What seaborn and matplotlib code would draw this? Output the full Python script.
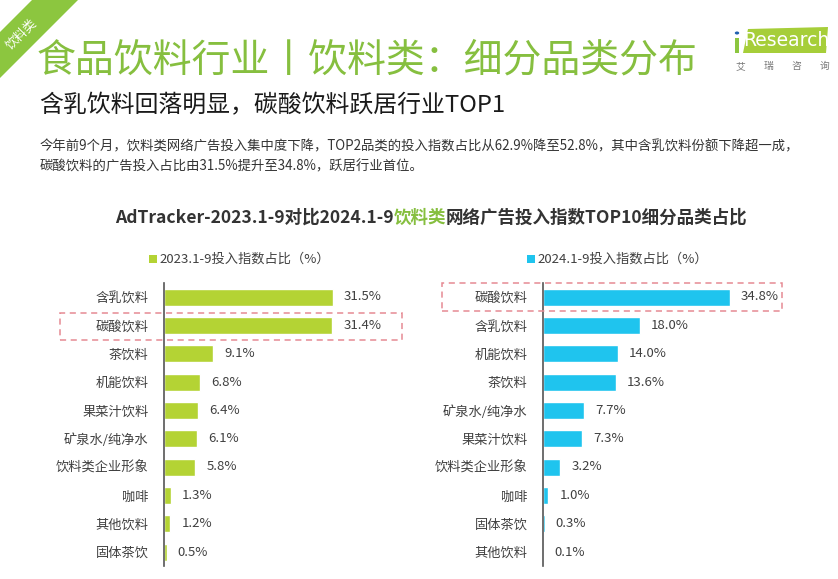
import matplotlib
matplotlib.use("Agg")
import matplotlib.pyplot as plt
import seaborn as sns
import pandas as pd
from matplotlib.patches import Rectangle, Polygon, Circle

sns.set_theme(style="white")
plt.rcParams['font.family'] = ['Noto Sans CJK SC', 'DejaVu Sans']

cats_2023 = ["含乳饮料", "碳酸饮料", "茶饮料", "机能饮料", "果菜汁饮料", "矿泉水/纯净水",
             "饮料类企业形象", "咖啡", "其他饮料", "固体茶饮"]
vals_2023 = [31.5, 31.4, 9.1, 6.8, 6.4, 6.1, 5.8, 1.3, 1.2, 0.5]
cats_2024 = ["碳酸饮料", "含乳饮料", "机能饮料", "茶饮料", "矿泉水/纯净水", "果菜汁饮料",
             "饮料类企业形象", "咖啡", "固体茶饮", "其他饮料"]
vals_2024 = [34.8, 18.0, 14.0, 13.6, 7.7, 7.3, 3.2, 1.0, 0.3, 0.1]
legend_2023 = "2023.1-9投入指数占比（%）"
legend_2024 = "2024.1-9投入指数占比（%）"

GREEN_T = "#86BF3F"
LIME = "#B4D334"
CYAN = "#1FC4EE"
W, H = 838, 579

fig = plt.figure(figsize=(W / 100, H / 100), dpi=100)
fig.patch.set_facecolor("white")


def fx(px):
    return px / W


def fy(py):
    return 1 - py / H


# corner banner
band = Polygon([(fx(0), fy(32)), (fx(32), fy(0)), (fx(78), fy(0)), (fx(0), fy(78))],
               closed=True, transform=fig.transFigure, facecolor="#8CC63F", edgecolor="none")
fig.patches.append(band)
fig.text(fx(22), fy(34), "饮料类", rotation=45, color="white", fontsize=9,
         ha="center", va="center")

# titles
fig.text(fx(37), fy(60), "食品饮料行业丨饮料类：细分品类分布", color=GREEN_T, fontsize=28,
         ha="left", va="center")
fig.text(fx(39), fy(106), "含乳饮料回落明显，碳酸饮料跃居行业TOP1", color="#1a1a1a", fontsize=17.2,
         ha="left", va="center")
fig.text(fx(40), fy(146),
         "今年前9个月，饮料类网络广告投入集中度下降，TOP2品类的投入指数占比从62.9%降至52.8%，其中含乳饮料份额下降超一成，",
         color="#333333", fontsize=9.6, ha="left", va="center")
fig.text(fx(40), fy(166), "碳酸饮料的广告投入占比由31.5%提升至34.8%，跃居行业首位。",
         color="#333333", fontsize=9.6, ha="left", va="center")

# logo
logo = Polygon([(fx(748), fy(29)), (fx(828), fy(27)), (fx(826), fy(53)), (fx(743), fy(53))],
               closed=True, transform=fig.transFigure, facecolor="#A6CE39", edgecolor="none")
fig.patches.append(logo)
fig.patches.append(Rectangle((fx(735), fy(53)), 4 / W, 15 / H, transform=fig.transFigure,
                             facecolor="#8CC63F", edgecolor="none"))
fig.patches.append(Circle((fx(737), fy(33)), 2.2 / W, transform=fig.transFigure,
                          facecolor="#1F5FAF", edgecolor="none"))
fig.text(fx(786), fy(41), "Research", color="white", fontsize=13.5, ha="center", va="center",
         family=["DejaVu Sans"])
for i, ch in enumerate("艾瑞咨询"):
    fig.text(fx(740 + i * 28), fy(66), ch, color="#777777", fontsize=7, ha="center", va="center")

# chart title with coloured middle part
fig.canvas.draw()
renderer = fig.canvas.get_renderer()
parts = [("AdTracker-2023.1-9对比2024.1-9", "#333333"), ("饮料类", GREEN_T),
         ("网络广告投入指数TOP10细分品类占比", "#333333")]
texts = []
for s, c in parts:
    t = fig.text(0, fy(218), s, color=c, fontsize=12.6, fontweight="bold", ha="left", va="center")
    texts.append(t)
widths = [t.get_window_extent(renderer).width for t in texts]
total = sum(widths)
x0 = 431 - total / 2
for t, w_ in zip(texts, widths):
    t.set_x(fx(x0))
    x0 += w_

# axes
row0, row9 = 297, 552
step = (row9 - row0) / 9
top_px = row0 - step / 2
bot_px = row9 + step / 2
scale = (333 - 164) / 31.5
xmax = 40
ax_w = xmax * scale

for left_px, cats, vals, color, leg, leg_x in [
    (164, cats_2023, vals_2023, LIME, legend_2023, 153),
    (543, cats_2024, vals_2024, CYAN, legend_2024, 531),
]:
    ax = fig.add_axes([fx(left_px), fy(bot_px), ax_w / W, (bot_px - top_px) / H])
    df = pd.DataFrame({"cat": cats, "val": vals})
    sns.barplot(data=df, x="val", y="cat", ax=ax, color=color, width=0.6,
                saturation=1, orient="h")
    ax.set_xlim(0, xmax)
    ax.set_ylim(9.5, -0.5)
    ax.set_xlabel("")
    ax.set_ylabel("")
    ax.set_xticks([])
    for s in ["top", "right", "bottom"]:
        ax.spines[s].set_visible(False)
    ax.spines["left"].set_color("#555555")
    ax.spines["left"].set_linewidth(1.2)
    ax.tick_params(axis="y", length=0, pad=11, labelsize=9.5, labelcolor="#404040")
    ax.patch.set_alpha(0)
    ax.bar_label(ax.containers[0], labels=[f"{v:.1f}%" for v in vals], padding=8,
                 fontsize=9.5, color="#404040")
    # legend
    fig.patches.append(Rectangle((fx(leg_x - 4), fy(263)), 8 / W, 8 / H,
                                 transform=fig.transFigure, facecolor=color, edgecolor="none"))
    fig.text(fx(leg_x + 6), fy(259), leg, fontsize=9.5, color="#404040", ha="left", va="center")

# dashed highlight boxes
for x1, y1, x2, y2 in [(60, 313, 402, 340), (442, 283, 782, 311)]:
    fig.patches.append(Rectangle((fx(x1), fy(y2)), (x2 - x1) / W, (y2 - y1) / H,
                                 transform=fig.transFigure, facecolor="none",
                                 edgecolor="#E68A93", linestyle=(0, (4, 3)), linewidth=1.1))

fig.savefig("out.png", dpi=100, facecolor="white")
